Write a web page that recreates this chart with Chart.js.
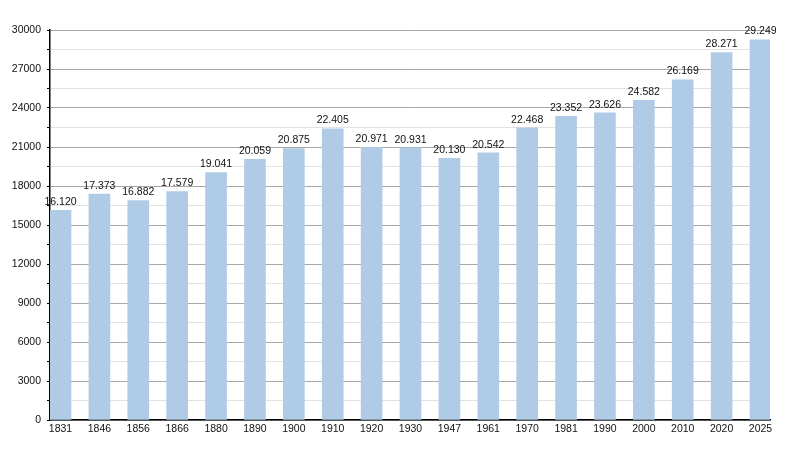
<!DOCTYPE html>
<html>
<head>
<meta charset="utf-8">
<script src="https://cdn.jsdelivr.net/npm/chart.js@4"></script>
<style>
html,body{margin:0;padding:0;background:#fff;}
#wrap{width:800px;height:450px;position:relative;}
</style>
</head>
<body>
<div id="wrap"><canvas id="c" width="800" height="450"></canvas></div>
<script>
const years = ['1831','1846','1856','1866','1880','1890','1900','1910','1920','1930','1947','1961','1970','1981','1990','2000','2010','2020','2025'];
const population = [16120,17373,16882,17579,19041,20059,20875,22405,20971,20931,20130,20542,22468,23352,23626,24582,26169,28271,29249];
const yTicks = [0,3000,6000,9000,12000,15000,18000,21000,24000,27000,30000];

const FONT = {family:'"Liberation Sans", Arial, sans-serif', size:10.5};

function fmt(v){ return String(v).replace(/\B(?=(\d{3})+(?!\d))/g,'.'); }

const valueLabels = {
  id:'valueLabels',
  afterDatasetsDraw(chart){
    const ctx = chart.ctx;
    const meta = chart.getDatasetMeta(0);
    ctx.save();
    ctx.font = FONT.size + 'px ' + FONT.family;
    ctx.fillStyle = '#111';
    ctx.textAlign = 'center';
    ctx.textBaseline = 'bottom';
    meta.data.forEach((el,i)=>{
      ctx.fillText(fmt(population[i]), el.x, el.y - 3);
    });
    ctx.restore();
  }
};

new Chart(document.getElementById('c'), {
  type:'bar',
  data:{
    datasets:[{
      data: population.map((v,i)=>({x:i, y:v})),
      backgroundColor:'#b0cbe6',
      borderWidth:0,
      barThickness:21
    }]
  },
  options:{
    responsive:false,
    animation:false,
    devicePixelRatio:1,
    layout:{padding:{top:30,right:30,left:0,bottom:0}},
    plugins:{legend:{display:false}, tooltip:{enabled:false}},
    scales:{
      x:{
        type:'linear',
        min:-0.27,
        max:18.244,
        offset:false,
        afterBuildTicks(scale){ scale.ticks = years.map((y,i)=>({value:i})); },
        afterFit(scale){ scale.height = 30; },
        ticks:{
          autoSkip:false, maxRotation:0, color:'#111', font:FONT, padding:3,
          callback:(v)=> years[v]
        },
        grid:{display:false, drawTicks:false},
        border:{display:true, color:'#000', width:1.5}
      },
      y:{
        min:0, max:30000,
        afterBuildTicks(scale){
          const t=[]; for(let v=0; v<=30000; v+=1500) t.push({value:v}); scale.ticks=t;
        },
        afterFit(scale){ scale.width = 50; },
        ticks:{
          color:'#111', font:FONT, padding:6,
          callback:(v)=> (v % 3000 === 0 ? String(v) : '')
        },
        grid:{
          color:(c)=> (c.tick && c.tick.value % 3000 === 0 ? '#a8a8a8' : '#e2e2e2'),
          tickColor:'#000',
          tickLength:3,
          lineWidth:1
        },
        border:{display:true, color:'#000', width:1.5}
      }
    }
  },
  plugins:[valueLabels]
});
</script>
</body>
</html>
